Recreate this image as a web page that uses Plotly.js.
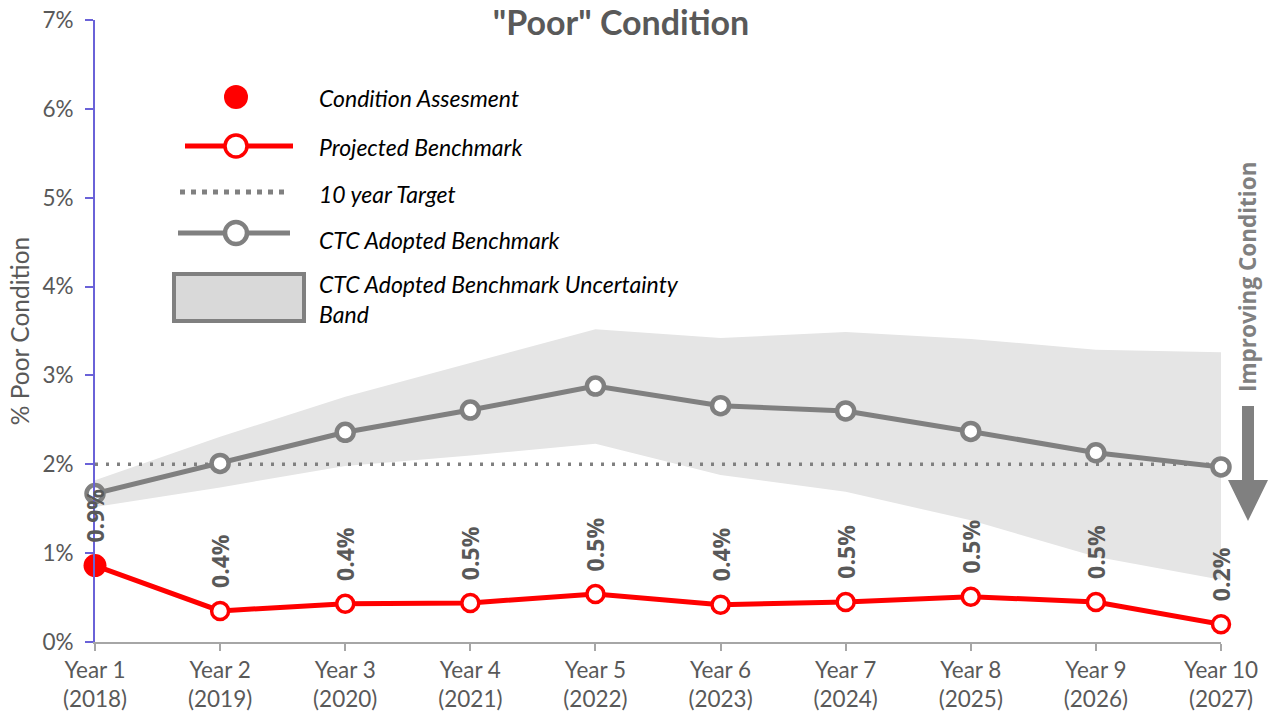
<!DOCTYPE html>
<html>
<head>
<meta charset="utf-8">
<script src="https://cdn.plot.ly/plotly-3.0.1.min.js"></script>
<style>
  html, body { margin: 0; padding: 0; background: #fff; }
  #plot { width: 1270px; height: 719px; }
</style>
</head>
<body>
<div id="plot"></div>
<script>
// ----- Datos -----
const years = ['Year 1<br>(2018)', 'Year 2<br>(2019)', 'Year 3<br>(2020)', 'Year 4<br>(2021)', 'Year 5<br>(2022)',
  'Year 6<br>(2023)', 'Year 7<br>(2024)', 'Year 8<br>(2025)', 'Year 9<br>(2026)', 'Year 10<br>(2027)'];
const projected = [0.86, 0.35, 0.43, 0.44, 0.54, 0.42, 0.45, 0.51, 0.45, 0.20];
const projectedLabels = ['0.9%', '0.4%', '0.4%', '0.5%', '0.5%', '0.4%', '0.5%', '0.5%', '0.5%', '0.2%'];
const assessment = [0.86];
const ctcBenchmark = [1.67, 2.01, 2.36, 2.61, 2.88, 2.66, 2.60, 2.37, 2.13, 1.97];
const bandUpper = [1.82, 2.31, 2.76, 3.14, 3.52, 3.42, 3.49, 3.41, 3.29, 3.26];
const bandLower = [1.52, 1.74, 1.98, 2.10, 2.23, 1.88, 1.69, 1.37, 0.96, 0.70];
const target = years.map(() => 2);

const GREY = '#808080';
const RED = '#ff0000';
const TXT = '#595959';
const FONT = 'Lato, "Open Sans", sans-serif';
const BOLD = '"Open Sans", Lato, sans-serif';

// plot area in pixels (for the hand-drawn legend / arrow)
const L = 95, R = 1221, T = 20, B = 642;
const px = (x) => (x - L) / (R - L);
const py = (y) => (B - y) / (B - T);
const pathOf = (pts) => 'M ' + pts.map(([x, y]) => `${px(x)},${py(y)}`).join(' L ') + ' Z';

const traces = [
  { x: years, y: bandLower, type: 'scatter', mode: 'lines', line: { width: 0 }, hoverinfo: 'skip' },
  { x: years, y: bandUpper, type: 'scatter', mode: 'lines', line: { width: 0 }, fill: 'tonexty',
    fillcolor: '#e5e5e5', name: 'CTC Adopted Benchmark Uncertainty Band' },
  { x: years, y: target, type: 'scatter', mode: 'lines', name: '10 year Target',
    line: { color: GREY, width: 3.5, dash: '3px,8px' } },
  { x: years, y: ctcBenchmark, type: 'scatter', mode: 'lines+markers', name: 'CTC Adopted Benchmark',
    line: { color: GREY, width: 5 }, cliponaxis: false,
    marker: { size: 17, color: '#fff', line: { color: GREY, width: 4.5 } } },
  { x: years, y: projected, type: 'scatter', mode: 'lines+markers', name: 'Projected Benchmark',
    line: { color: RED, width: 5 }, cliponaxis: false,
    marker: { size: 17, color: '#fff', line: { color: RED, width: 3.5 } } },
  { x: years.slice(0, 1), y: assessment, type: 'scatter', mode: 'markers', name: 'Condition Assesment',
    cliponaxis: false, marker: { size: 23, color: RED } }
];

// etiquetas de datos rotadas
const annotations = years.map((c, i) => ({
  x: c, y: projected[i], xref: 'x', yref: 'y', text: '<b>' + projectedLabels[i] + '</b>', showarrow: false,
  textangle: -90, xanchor: 'center', yanchor: 'bottom', yshift: 21,
  font: { family: BOLD, size: 23, color: TXT }
}));

// leyenda dibujada a mano
const legendItems = [
  { y: 98, text: 'Condition Assesment' },
  { y: 147, text: 'Projected Benchmark' },
  { y: 194, text: '10 year Target' },
  { y: 240, text: 'CTC Adopted Benchmark' },
  { y: 299, text: 'CTC Adopted Benchmark Uncertainty<br>Band' }
];
legendItems.forEach(it => annotations.push({
  x: px(317), y: py(it.y), xref: 'paper', yref: 'paper', xanchor: 'left', yanchor: 'middle',
  align: 'left', showarrow: false, text: it.text,
  font: { family: FONT, size: 23, color: '#000', style: 'italic' }
}));

annotations.push({
  x: px(1247), y: py(277), xref: 'paper', yref: 'paper', xanchor: 'center', yanchor: 'middle',
  showarrow: false, textangle: -90,
  text: '<b>Improving Condition</b>', font: { family: BOLD, size: 22.5, color: GREY }
});

const circle = (cx, cy, r, fill, stroke, w) => ({
  type: 'circle', xref: 'paper', yref: 'paper', x0: px(cx - r), x1: px(cx + r), y0: py(cy + r), y1: py(cy - r),
  fillcolor: fill, line: { color: stroke, width: w }
});
const hline = (x0, x1, y, color, w, dash) => ({
  type: 'line', xref: 'paper', yref: 'paper', x0: px(x0), x1: px(x1), y0: py(y), y1: py(y),
  line: { color, width: w, dash: dash || 'solid' }
});

const shapes = [
  circle(236, 97, 12, RED, RED, 0),
  hline(185, 293, 146, RED, 5),
  circle(236, 146, 11, '#fff', RED, 3.5),
  hline(180, 290, 192, GREY, 5, '5px,6px'),
  hline(178, 290, 233, GREY, 5),
  circle(236, 233, 11, '#fff', GREY, 4.5),
  { type: 'rect', xref: 'paper', yref: 'paper', x0: px(174), x1: px(304), y0: py(321), y1: py(274),
    fillcolor: '#d9d9d9', line: { color: GREY, width: 4 } },
  { type: 'path', xref: 'paper', yref: 'paper', fillcolor: GREY, line: { width: 0 },
    path: pathOf([[1242, 406], [1254, 406], [1254, 480], [1268, 480], [1248, 521], [1228, 480], [1242, 480]]) }
];

const layout = {
  width: 1270, height: 719,
  margin: { l: L, r: 1270 - R, t: T, b: 719 - B },
  paper_bgcolor: '#fff', plot_bgcolor: '#fff',
  showlegend: false,
  font: { family: FONT, color: TXT },
  title: { text: '<b>"Poor" Condition</b>', x: 621 / 1270, xanchor: 'center', y: 1 - 23 / 719, yanchor: 'middle',
    font: { family: FONT, size: 34, color: TXT } },
  xaxis: {
    type: 'category', range: [0, 9], showgrid: false, zeroline: false,
    showline: true, linecolor: '#a6a6a6', linewidth: 1.5,
    ticks: 'outside', ticklen: 7, tickcolor: '#a6a6a6', tickwidth: 1.5,
    tickfont: { family: FONT, size: 22.5, color: TXT }
  },
  yaxis: {
    range: [0, 7], dtick: 1, ticksuffix: '%', showgrid: false, zeroline: false,
    showline: true, linecolor: '#6a62d8', linewidth: 2,
    ticks: 'outside', ticklen: 8, tickcolor: '#6a62d8', tickwidth: 2,
    ticklabelstandoff: 7,
    tickfont: { family: FONT, size: 22.5, color: TXT },
    title: { text: '% Poor Condition', font: { family: FONT, size: 24.5, color: TXT }, standoff: 6 }
  },
  annotations, shapes
};

Plotly.newPlot('plot', traces, layout, { displayModeBar: false, responsive: false });
</script>
</body>
</html>
